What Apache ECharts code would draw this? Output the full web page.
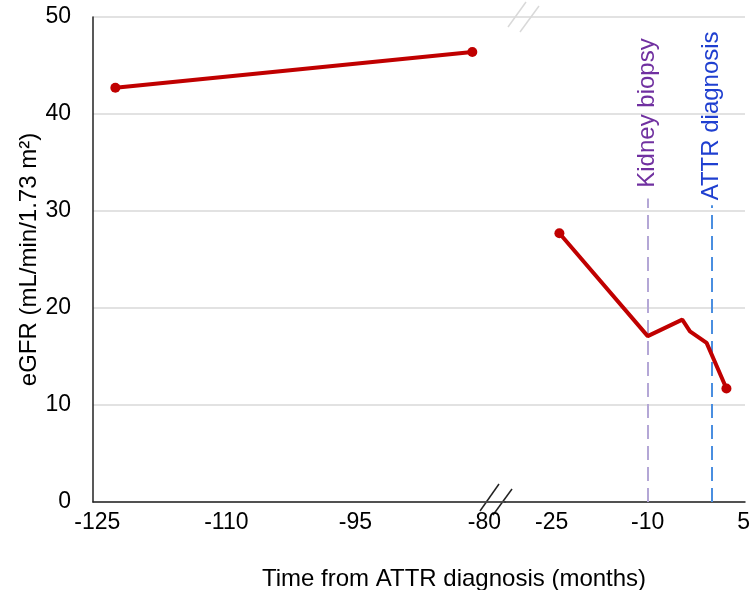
<!DOCTYPE html>
<html>
<head>
<meta charset="utf-8">
<script src="https://cdn.jsdelivr.net/npm/echarts@6/dist/echarts.min.js"></script>
<style>
  html, body { margin: 0; padding: 0; background: #fff; }
  #chart { width: 756px; height: 590px; }
</style>
</head>
<body>
<div id="chart"></div>
<script>
// months before/after ATTR diagnosis
const earlyMonths = [-122.9, -81.4];
const earlyEgfr = [42.7, 46.4];
const recentMonths = [-23.8, -10, -4.6, -3.4, -0.8, 2.3];
const recentEgfr = [27.7, 17.1, 18.8, 17.6, 16.4, 11.7];

const leftTicks = [-125, -110, -95, -80];
const rightTicks = [-25, -10, 5];
const yTicks = [0, 10, 20, 30, 40, 50];

const biopsyMonth = -10;
const diagnosisMonth = 0;

const FONT = "Liberation Sans, Arial, sans-serif";
const RED = "#c00000";

const chart = echarts.init(document.getElementById("chart"));

const toPairs = (xs, ys) => xs.map((x, i) => [x, ys[i]]);
const endpointSize = (n) => (val, params) =>
  params.dataIndex === 0 || params.dataIndex === n - 1 ? 10 : 0;

const axisLabelStyle = { color: "#000", fontSize: 23, fontFamily: FONT };

// dashed marker line plus a rotated label sitting above it
const vline = (month, top, textStart, text, lineColor, textColor, dash) => [
  [
    {
      coord: [month, 0],
      lineStyle: { color: lineColor, width: 2, type: dash },
      label: { show: false },
    },
    { coord: [month, top] },
  ],
  [
    {
      coord: [month, textStart],
      lineStyle: { color: "rgba(0,0,0,0)", width: 1 },
      label: {
        show: true,
        position: "insideStart",
        distance: 0,
        formatter: text,
        color: textColor,
        fontSize: 24,
        fontFamily: FONT,
      },
    },
    { coord: [month, 50] },
  ],
];

const option = {
  animation: false,
  title: {
    text: "Time from ATTR diagnosis (months)",
    left: 257,
    top: 562,
    textStyle: { color: "#000", fontSize: 24, fontWeight: "normal", fontFamily: FONT },
  },
  grid: [
    { left: 93, top: 17, width: 412, height: 485 },
    { left: 505, top: 17, width: 240, height: 485 },
  ],
  xAxis: [
    {
      type: "value",
      gridIndex: 0,
      min: -125.5,
      max: -77.6,
      axisLine: { show: true, onZero: false, lineStyle: { color: "#222", width: 1.5 } },
      axisTick: { show: false },
      splitLine: { show: false },
      axisLabel: { ...axisLabelStyle, margin: 9, customValues: leftTicks },
    },
    {
      type: "value",
      gridIndex: 1,
      min: -32.3,
      max: 5.2,
      axisLine: { show: true, onZero: false, lineStyle: { color: "#222", width: 1.5 } },
      axisTick: { show: false },
      splitLine: { show: false },
      axisLabel: { ...axisLabelStyle, margin: 9, customValues: rightTicks },
    },
  ],
  yAxis: [
    {
      type: "value",
      gridIndex: 0,
      min: 0,
      max: 50,
      interval: 10,
      name: "eGFR (mL/min/1.73 m²)",
      nameLocation: "middle",
      nameGap: 52,
      nameMoveOverlap: false,
      nameTextStyle: { color: "#000", fontSize: 24, fontFamily: FONT },
      axisLine: { show: true, lineStyle: { color: "#222", width: 1.5 } },
      axisTick: { show: false },
      axisLabel: { ...axisLabelStyle, margin: 22, customValues: yTicks },
      splitLine: { lineStyle: { color: "#d9d9d9", width: 1.5 } },
    },
    {
      type: "value",
      gridIndex: 1,
      min: 0,
      max: 50,
      interval: 10,
      axisLine: { show: false },
      axisTick: { show: false },
      axisLabel: { show: false },
      splitLine: { lineStyle: { color: "#d9d9d9", width: 1.5 } },
    },
  ],
  series: [
    {
      type: "line",
      xAxisIndex: 0,
      yAxisIndex: 0,
      data: toPairs(earlyMonths, earlyEgfr),
      symbol: "circle",
      symbolSize: endpointSize(earlyMonths.length),
      lineStyle: { color: RED, width: 4 },
      itemStyle: { color: RED },
      z: 5,
    },
    {
      type: "line",
      xAxisIndex: 1,
      yAxisIndex: 1,
      data: toPairs(recentMonths, recentEgfr),
      symbol: "circle",
      symbolSize: endpointSize(recentMonths.length),
      lineStyle: { color: RED, width: 4 },
      itemStyle: { color: RED },
      z: 5,
      markLine: {
        silent: true,
        symbol: ["none", "none"],
        animation: false,
        data: [
          ...vline(biopsyMonth, 31.3, 32.4, "Kidney biopsy", "#b4a7d6", "#7030a0", [14, 7]),
          ...vline(diagnosisMonth, 30.6, 31.1, "ATTR diagnosis", "#4a8ee0", "#1f3fd0", [14, 7]),
        ],
      },
    },
  ],
  graphic: [
    // axis break marks
    { type: "line", shape: { x1: 499, y1: 484, x2: 480, y2: 511 }, style: { stroke: "#222", lineWidth: 1.5 } },
    { type: "line", shape: { x1: 512, y1: 489, x2: 493, y2: 515 }, style: { stroke: "#222", lineWidth: 1.5 } },
    { type: "line", shape: { x1: 526, y1: 2, x2: 508, y2: 27 }, style: { stroke: "#d9d9d9", lineWidth: 1.5 } },
    { type: "line", shape: { x1: 539, y1: 6, x2: 520, y2: 32 }, style: { stroke: "#d9d9d9", lineWidth: 1.5 } },
  ],
};

chart.setOption(option);
</script>
</body>
</html>
